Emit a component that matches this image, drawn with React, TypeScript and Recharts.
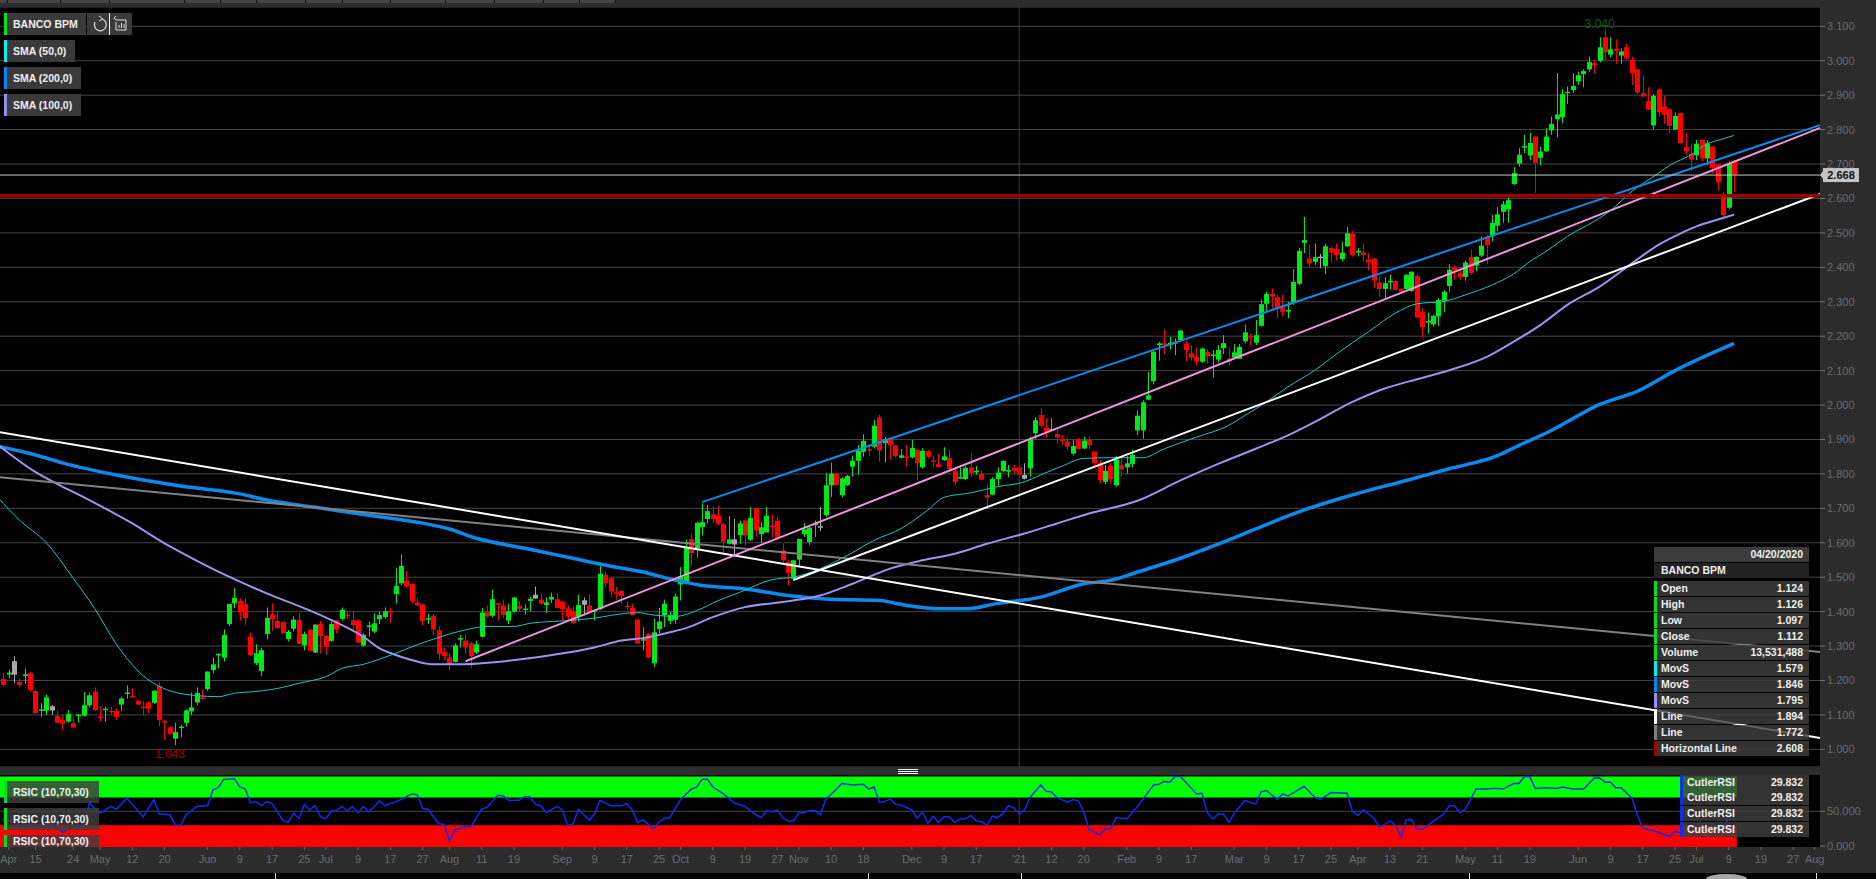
import { Bar, CartesianGrid, ComposedChart, Line, ReferenceArea, ReferenceDot, ReferenceLine, XAxis, YAxis } from "recharts"

// open, high, low, close (fifth field = unchanged bar, drawn grey)
const candles: number[][] = [
  [1.205,1.221,1.182,1.187],[1.217,1.232,1.206,1.223],[1.217,1.271,1.192,1.256,1],[1.196,1.206,1.180,1.186],[1.213,1.235,1.190,1.218],
  [1.221,1.225,1.167,1.172],[1.169,1.172,1.105,1.105],[1.112,1.134,1.095,1.116],[1.112,1.158,1.100,1.151],[1.113,1.129,1.100,1.125,1],
  [1.097,1.112,1.076,1.077],[1.085,1.100,1.056,1.075],[1.081,1.114,1.077,1.103],[1.076,1.093,1.061,1.063],[1.098,1.101,1.077,1.101],
  [1.098,1.166,1.095,1.128],[1.128,1.165,1.122,1.157],[1.168,1.180,1.112,1.114],[1.095,1.126,1.080,1.092],[1.115,1.124,1.080,1.118],
  [1.112,1.124,1.100,1.108],[1.111,1.119,1.085,1.094],[1.130,1.153,1.112,1.148],[1.162,1.186,1.147,1.165],[1.155,1.177,1.151,1.152],
  [1.141,1.143,1.129,1.130],[1.124,1.140,1.099,1.122],[1.136,1.140,1.105,1.118],[1.135,1.172,1.132,1.170],[1.184,1.194,1.066,1.085],
  [1.082,1.087,1.027,1.080],[1.064,1.068,1.042,1.045],[1.031,1.077,1.012,1.050],[1.063,1.071,1.035,1.066],[1.077,1.116,1.066,1.113],
  [1.110,1.165,1.100,1.122],[1.136,1.180,1.128,1.164],[1.151,1.174,1.143,1.147],[1.175,1.226,1.170,1.226],[1.230,1.267,1.221,1.247],
  [1.273,1.279,1.235,1.277],[1.266,1.348,1.255,1.332],[1.364,1.422,1.358,1.422],[1.424,1.468,1.410,1.440],[1.431,1.439,1.374,1.399],
  [1.422,1.439,1.360,1.381],[1.327,1.339,1.271,1.274],[1.250,1.305,1.245,1.279],[1.227,1.295,1.213,1.288],[1.335,1.412,1.319,1.382],
  [1.392,1.424,1.345,1.378],[1.373,1.400,1.350,1.352],[1.370,1.371,1.335,1.337],[1.320,1.347,1.313,1.341],[1.350,1.387,1.342,1.377],
  [1.376,1.395,1.306,1.306],[1.302,1.342,1.287,1.335],[1.347,1.349,1.286,1.286],[1.281,1.364,1.279,1.362],[1.365,1.374,1.279,1.329],
  [1.329,1.332,1.275,1.298],[1.315,1.371,1.313,1.364],[1.374,1.376,1.337,1.348],[1.379,1.412,1.374,1.405],[1.391,1.403,1.378,1.389],
  [1.375,1.400,1.345,1.360],[1.373,1.378,1.308,1.310],[1.301,1.337,1.298,1.333],[1.355,1.371,1.327,1.360],[1.342,1.395,1.337,1.366],
  [1.378,1.400,1.364,1.390],[1.384,1.412,1.379,1.401],[1.402,1.409,1.368,1.399],[1.451,1.526,1.424,1.474],[1.482,1.566,1.477,1.533],
  [1.490,1.519,1.470,1.474],[1.480,1.482,1.424,1.429],[1.426,1.439,1.414,1.418],[1.421,1.422,1.360,1.373],[1.378,1.393,1.364,1.381],
  [1.387,1.393,1.332,1.348],[1.346,1.358,1.261,1.277],[1.283,1.296,1.259,1.271],[1.267,1.279,1.230,1.245],
  [1.254,1.308,1.252,1.302],[1.319,1.332,1.296,1.323],[1.316,1.335,1.277,1.296],[1.308,1.312,1.236,1.271],[1.281,1.316,1.277,1.305],
  [1.327,1.411,1.325,1.397],[1.399,1.418,1.382,1.386],[1.388,1.464,1.384,1.436],[1.424,1.424,1.374,1.422],[1.418,1.435,1.382,1.390],
  [1.374,1.423,1.364,1.401],[1.400,1.442,1.397,1.441],[1.417,1.431,1.399,1.408],[1.407,1.421,1.391,1.409],[1.431,1.443,1.401,1.437],
  [1.438,1.473,1.437,1.449,1],[1.435,1.452,1.419,1.423],[1.419,1.441,1.396,1.427],[1.435,1.455,1.425,1.443],[1.436,1.454,1.410,1.411],
  [1.429,1.429,1.376,1.407],[1.409,1.418,1.376,1.386],[1.401,1.415,1.364,1.366],[1.386,1.449,1.372,1.419],[1.420,1.441,1.389,1.433,1],
  [1.418,1.450,1.396,1.399],[1.401,1.405,1.374,1.405],[1.408,1.533,1.405,1.510],[1.506,1.516,1.472,1.482],[1.498,1.499,1.442,1.458],
  [1.456,1.472,1.435,1.453],[1.460,1.462,1.423,1.445],[1.417,1.429,1.403,1.415],[1.411,1.423,1.389,1.390],[1.377,1.377,1.306,1.307],
  [1.316,1.355,1.288,1.320],[1.335,1.338,1.266,1.267],[1.250,1.379,1.239,1.340],[1.349,1.411,1.337,1.371],[1.389,1.435,1.355,1.423],
  [1.373,1.399,1.364,1.390],[1.376,1.452,1.364,1.444],[1.479,1.529,1.432,1.502],[1.481,1.609,1.479,1.585],[1.611,1.625,1.533,1.570],
  [1.583,1.661,1.557,1.658],[1.646,1.714,1.621,1.660],[1.669,1.710,1.656,1.692],[1.683,1.706,1.658,1.669],[1.679,1.708,1.651,1.654],
  [1.654,1.658,1.568,1.603],[1.597,1.677,1.595,1.610],[1.595,1.670,1.563,1.610,1],[1.622,1.664,1.597,1.656],[1.665,1.667,1.592,1.621],
  [1.609,1.704,1.605,1.672],[1.700,1.702,1.617,1.636],[1.625,1.661,1.599,1.645],[1.630,1.704,1.629,1.678],[1.650,1.680,1.617,1.645],
  [1.664,1.677,1.612,1.615],[1.578,1.597,1.539,1.549],[1.544,1.549,1.475,1.512],[1.495,1.551,1.490,1.549],[1.551,1.611,1.533,1.611],
  [1.625,1.658,1.617,1.639],[1.602,1.646,1.594,1.644],[1.651,1.665,1.617,1.658],[1.646,1.704,1.634,1.648,1],[1.680,1.803,1.675,1.767],
  [1.767,1.833,1.733,1.801],[1.801,1.802,1.767,1.767],[1.738,1.790,1.732,1.787],[1.767,1.797,1.765,1.794],[1.821,1.853,1.792,1.838],
  [1.838,1.884,1.798,1.867],[1.864,1.915,1.850,1.896],[1.872,1.884,1.852,1.869],[1.879,1.957,1.874,1.940],[1.964,1.972,1.836,1.868],
  [1.889,1.907,1.833,1.901],[1.899,1.904,1.840,1.884],[1.883,1.884,1.848,1.852],[1.847,1.872,1.845,1.854],[1.851,1.884,1.821,1.849],
  [1.848,1.899,1.845,1.875],[1.870,1.872,1.782,1.831],[1.819,1.875,1.816,1.867],[1.866,1.870,1.844,1.850],[1.839,1.852,1.821,1.836],
  [1.828,1.858,1.819,1.820],[1.840,1.877,1.838,1.851],[1.846,1.871,1.811,1.814],[1.809,1.823,1.767,1.776],[1.788,1.819,1.786,1.791],
  [1.785,1.823,1.782,1.818],[1.819,1.860,1.792,1.802],[1.805,1.823,1.797,1.809],[1.800,1.811,1.782,1.783],[1.739,1.770,1.704,1.731],
  [1.740,1.790,1.738,1.785],[1.785,1.819,1.765,1.804],[1.808,1.839,1.805,1.838],[1.807,1.826,1.790,1.811],[1.817,1.826,1.800,1.809],
  [1.819,1.826,1.777,1.797],[1.786,1.831,1.784,1.797,1],[1.816,1.908,1.792,1.901],[1.918,1.965,1.901,1.956],[1.971,1.991,1.933,1.940],
  [1.934,1.962,1.906,1.920],[1.928,1.962,1.926,1.930],[1.916,1.928,1.889,1.906],[1.900,1.913,1.884,1.897],[1.895,1.906,1.870,1.879],
  [1.859,1.899,1.854,1.881],[1.900,1.904,1.870,1.873],[1.874,1.908,1.872,1.897],[1.899,1.908,1.872,1.883],[1.865,1.865,1.816,1.831],
  [1.831,1.840,1.772,1.782],[1.777,1.826,1.770,1.809],[1.824,1.831,1.772,1.784],[1.767,1.852,1.763,1.842],[1.826,1.850,1.792,1.813],
  [1.819,1.852,1.800,1.831],[1.829,1.870,1.819,1.855],[1.926,1.984,1.913,1.969],[1.926,2.014,1.902,2.008],[2.016,2.096,2.014,2.028],
  [2.069,2.160,2.060,2.155],[2.174,2.184,2.129,2.179],[2.179,2.220,2.148,2.175],[2.175,2.199,2.161,2.181],[2.179,2.194,2.145,2.183],
  [2.189,2.218,2.185,2.216],[2.179,2.187,2.126,2.160],[2.150,2.174,2.129,2.138],[2.141,2.167,2.115,2.126],[2.126,2.167,2.123,2.164],
  [2.154,2.162,2.121,2.142],[2.144,2.160,2.080,2.147],[2.132,2.174,2.123,2.160],[2.165,2.203,2.148,2.180],[2.135,2.167,2.116,2.126],
  [2.138,2.177,2.135,2.153],[2.134,2.177,2.134,2.169],[2.185,2.234,2.179,2.211],[2.201,2.208,2.172,2.198],[2.181,2.247,2.174,2.203],
  [2.230,2.307,2.228,2.293],[2.294,2.330,2.267,2.323],[2.323,2.339,2.281,2.315],[2.313,2.320,2.252,2.281],[2.284,2.320,2.257,2.271],
  [2.273,2.300,2.252,2.276],[2.296,2.395,2.291,2.358],[2.352,2.456,2.349,2.448],[2.471,2.547,2.441,2.479],[2.426,2.466,2.401,2.411],
  [2.416,2.469,2.407,2.429],[2.429,2.439,2.398,2.431,1],[2.403,2.468,2.380,2.461],[2.456,2.461,2.414,2.443],[2.453,2.469,2.420,2.435],
  [2.424,2.473,2.417,2.443],[2.461,2.517,2.459,2.499],[2.497,2.505,2.432,2.436],[2.443,2.456,2.432,2.448],[2.443,2.469,2.417,2.436],
  [2.422,2.441,2.391,2.414],[2.424,2.427,2.340,2.362],[2.356,2.374,2.313,2.337],[2.337,2.372,2.310,2.354],[2.359,2.379,2.335,2.361],
  [2.360,2.362,2.333,2.335],[2.338,2.340,2.327,2.329],[2.337,2.380,2.335,2.378],[2.331,2.389,2.329,2.387],[2.375,2.381,2.254,2.254],
  [2.270,2.281,2.197,2.226],[2.240,2.268,2.208,2.244],[2.234,2.262,2.228,2.259],[2.257,2.310,2.230,2.305],[2.303,2.333,2.271,2.329],
  [2.346,2.409,2.329,2.393],[2.400,2.405,2.364,2.391],[2.383,2.393,2.364,2.372],[2.372,2.420,2.361,2.414],[2.430,2.451,2.378,2.383],
  [2.405,2.432,2.388,2.430],[2.434,2.490,2.430,2.463],[2.488,2.495,2.410,2.464],[2.492,2.553,2.476,2.529],[2.521,2.575,2.505,2.554],
  [2.561,2.593,2.529,2.583],[2.568,2.604,2.529,2.595],[2.642,2.691,2.639,2.674],[2.701,2.746,2.693,2.727],[2.748,2.785,2.732,2.752],
  [2.725,2.790,2.711,2.761],[2.780,2.780,2.616,2.703],[2.718,2.751,2.696,2.736],[2.737,2.804,2.734,2.780],[2.798,2.838,2.785,2.817],
  [2.830,2.964,2.778,2.844],[2.836,2.917,2.819,2.903],[2.907,2.925,2.875,2.910],[2.915,2.964,2.906,2.927],[2.940,2.968,2.930,2.958],
  [2.961,2.975,2.923,2.970],[2.975,3.012,2.968,2.996],[2.993,3.002,2.962,2.987],[3.000,3.068,2.995,3.039],[3.068,3.091,3.000,3.024],
  [3.018,3.068,3.010,3.033],[3.034,3.062,2.991,3.029],[3.015,3.036,2.991,3.027],[3.039,3.049,3.004,3.007],[3.002,3.012,2.929,2.964],
  [2.975,2.976,2.904,2.908],[2.906,2.958,2.896,2.896],[2.883,2.923,2.857,2.858],[2.812,2.903,2.801,2.898],[2.917,2.918,2.838,2.851],
  [2.867,2.898,2.817,2.843],[2.859,2.861,2.790,2.811],[2.800,2.850,2.799,2.840],[2.848,2.848,2.759,2.761],[2.749,2.790,2.726,2.737],
  [2.730,2.759,2.679,2.713],[2.725,2.770,2.711,2.759],[2.770,2.770,2.708,2.717],[2.716,2.769,2.697,2.760],[2.751,2.751,2.672,2.688],
  [2.698,2.701,2.624,2.647],[2.606,2.618,2.546,2.551],[2.573,2.708,2.568,2.701],[2.710,2.710,2.618,2.669],
]

// [bar index, value]
const sma50 = [[-1,1.731],[3,1.666],[8,1.600],[13,1.497],[17,1.409],[21,1.306],[26,1.214],[31,1.170],[36,1.156],[40,1.153],[43,1.163],[47,1.168],[52,1.180],[55,1.192],[60,1.211],[63,1.235],[67,1.247],[70,1.262],[73,1.279],[76,1.298],[80,1.320],[83,1.335],[86,1.347],[90,1.357],[95,1.357],[98,1.366],[105,1.374],[110,1.381],[113,1.389],[118,1.397],[121,1.390],[125,1.386],[129,1.403],[133,1.432],[137,1.456],[143,1.493],[147,1.500],[152,1.525],[157,1.563],[162,1.607],[167,1.641],[172,1.695],[175,1.732],[180,1.745],[185,1.763],[190,1.777],[193,1.797],[197,1.823],[201,1.845],[206,1.847],[212,1.847],[216,1.873],[222,1.907],[228,1.941],[231,1.970],[235,2.009],[239,2.053],[244,2.101],[248,2.148],[254,2.213],[259,2.267],[263,2.294],[268,2.301],[272,2.320],[277,2.349],[281,2.381],[284,2.417],[287,2.446],[291,2.490],[296,2.534],[299,2.565],[303,2.621],[308,2.674],[310,2.696],[314,2.727],[317,2.759],[319,2.769],[322,2.783]]
const sma100 = [[-1,1.884],[6,1.805],[10,1.771],[16,1.724],[24,1.656],[30,1.598],[34,1.564],[40,1.516],[44,1.487],[49,1.453],[55,1.416],[59,1.390],[63,1.361],[67,1.327],[70,1.293],[73,1.274],[77,1.255],[80,1.247],[85,1.247],[94,1.257],[105,1.281],[110,1.296],[115,1.316],[119,1.323],[124,1.340],[127,1.352],[132,1.384],[138,1.413],[146,1.430],[152,1.447],[158,1.481],[165,1.525],[171,1.549],[177,1.568],[183,1.597],[190,1.627],[196,1.656],[202,1.685],[211,1.722],[219,1.781],[226,1.829],[233,1.873],[239,1.912],[244,1.951],[251,2.009],[257,2.048],[263,2.075],[269,2.101],[276,2.140],[281,2.184],[286,2.233],[291,2.291],[297,2.344],[304,2.423],[308,2.466],[312,2.498],[315,2.519],[319,2.539],[322,2.553]]
const sma200 = [[-1,1.880],[6,1.855],[11,1.832],[22,1.794],[33,1.765],[44,1.742],[49,1.724],[58,1.703],[68,1.680],[78,1.657],[83,1.640],[88,1.613],[97,1.584],[105,1.558],[113,1.532],[119,1.515],[124,1.495],[130,1.476],[138,1.466],[146,1.447],[153,1.437],[163,1.432],[168,1.418],[174,1.408],[179,1.408],[185,1.424],[193,1.442],[201,1.481],[206,1.491],[211,1.515],[219,1.555],[226,1.596],[233,1.640],[240,1.684],[249,1.730],[261,1.781],[269,1.815],[278,1.853],[282,1.883],[288,1.926],[297,2.002],[304,2.040],[311,2.100],[322,2.179]]

// [bar index, price] end points of the drawn trend lines
const channelTop = [[130,1.718],[338,2.813]]
const channelMid = [[86,1.256],[338,2.805]]
const channelLow = [[147,1.492],[338,2.613]]
const fallLine = [[-1,1.922],[338,1.033]]
const fallLineGrey = [[-1,1.791],[338,1.283]]

const rsi = [[0,41],[3,29],[7,31],[9,32],[11,20],[13,29],[15,29],[16,62],[18,47],[20,57],[21,53],[23,69],[26,42],[28,67],[29,46],[31,45],[32,30],[33,30],[34,45],[36,57],[38,58],[39,81],[40,84],[41,96],[43,97],[44,85],[45,82],[46,62],[47,64],[48,58],[49,64],[50,61],[52,37],[53,34],[54,47],[55,40],[56,60],[57,52],[58,58],[59,42],[60,39],[61,50],[62,51],[63,57],[64,51],[65,57],[66,48],[67,57],[68,49],[70,65],[71,58],[74,67],[76,75],[77,74],[78,54],[79,53],[81,32],[82,31],[83,8],[84,23],[86,28],[87,28],[89,53],[90,56],[92,73],[93,72],[94,66],[96,66],[97,71],[98,71],[99,60],[100,58],[101,48],[103,57],[104,52],[105,30],[106,32],[107,53],[109,37],[110,46],[111,66],[113,58],[115,58],[116,61],[117,52],[118,34],[119,38],[121,25],[122,35],[123,40],[124,41],[126,67],[128,82],[129,85],[130,96],[131,96],[132,85],[134,75],[136,62],[138,57],[140,45],[141,41],[142,51],[143,49],[144,52],[145,41],[146,36],[147,36],[148,48],[149,48],[150,51],[151,51],[152,45],[153,67],[155,82],[156,90],[158,88],[160,89],[161,82],[162,85],[163,63],[164,64],[165,68],[166,60],[167,59],[169,52],[170,40],[171,49],[172,33],[173,43],[174,34],[175,42],[176,42],[177,34],[178,39],[179,39],[180,44],[181,36],[182,35],[183,30],[184,43],[185,41],[186,47],[187,58],[188,55],[189,46],[190,52],[191,70],[193,88],[194,79],[195,78],[196,70],[198,63],[199,67],[200,65],[201,49],[202,24],[204,16],[205,25],[206,25],[207,41],[209,39],[211,57],[212,67],[214,88],[215,89],[216,93],[217,92],[218,100],[219,100],[222,75],[223,76],[224,48],[225,39],[226,46],[227,46],[228,34],[229,47],[231,66],[233,60],[234,78],[235,80],[237,67],[238,75],[239,72],[242,86],[244,70],[245,67],[247,77],[250,76],[251,50],[252,44],[253,52],[255,40],[256,27],[258,36],[259,30],[260,13],[261,38],[262,38],[263,24],[264,24],[266,35],[268,46],[269,58],[270,58],[271,48],[272,53],[274,82],[276,82],[277,83],[278,83],[279,82],[281,90],[282,90],[283,100],[284,100],[285,83],[287,84],[289,83],[290,85],[292,82],[294,82],[296,98],[297,98],[298,92],[299,92],[300,84],[301,84],[303,69],[304,45],[305,26],[307,22],[310,14],[311,21],[313,18],[315,32],[318,32],[320,27],[321,40],[322,41]]

const priceTicks = [1,1.1,1.2,1.3,1.4,1.5,1.6,1.7,1.8,1.9,2,2.1,2.2,2.3,2.4,2.5,2.6,2.7,2.8,2.9,3,3.1]
const rsiTicks = [0,50]
const dateTicks = [1,6,13,18,24,30,38,44,50,56,60,66,72,78,83,89,95,104,110,116,122,126,132,138,144,148,154,160,169,175,181,189,195,201,209,215,221,229,235,241,247,252,258,264,272,278,284,293,299,305,311,315,321,327,333,337]
const dateLabels = ["Apr","15","24","May","12","20","Jun","9","17","25","Jul","9","17","27","Aug","11","19","Sep","9","17","25","Oct","9","19","27","Nov","10","18","Dec","9","17","'21","12","20","Feb","9","17","Mar","9","17","25","Apr","13","21","May","11","19","Jun","9","17","25","Jul","9","19","27","Aug"]

const legendItems = [
  { name: "BANCO BPM", color: "#00e01e", width: 82 },
  { name: "SMA (50,0)", color: "#00f0f0", width: 71 },
  { name: "SMA (200,0)", color: "#0a84f0", width: 77 },
  { name: "SMA (100,0)", color: "#9090f0", width: 77 },
]
const infoRows = [
  ["Open", "1.124", "#00e01e"], ["High", "1.126", "#00e01e"], ["Low", "1.097", "#00e01e"], ["Close", "1.112", "#00e01e"],
  ["Volume", "13,531,488", "#00e01e"], ["MovS", "1.579", "#00f0f0"], ["MovS", "1.846", "#0a84f0"], ["MovS", "1.795", "#9090f0"],
  ["Line", "1.894", "#ffffff"], ["Line", "1.772", "#808080"], ["Horizontal Line", "2.608", "#a00000"],
]
const rsicTops = [781, 808, 835]
const cutlerTops = [775, 790, 806, 822]
const tabEdges = [7, 60, 109, 184, 220, 256, 305, 342, 390, 445, 494, 543, 579, 615]
const navMarks = [275, 868, 1021, 1469, 1816]

// one extra slot before the first bar so the trend lines reach the left edge
const FIRST_SLOT = -1
const SLOT_COUNT = 340
const rows: any[] = Array.from({ length: SLOT_COUNT }, (_, n) => {
  const i = n + FIRST_SLOT
  const c = candles[i]
  return c ? { i, open: c[0], high: c[1], low: c[2], close: c[3], flat: c[4] === 1, range: [c[2], c[1]] } : { i }
})
const fill = (key: string, pts: number[][]) => pts.forEach(([i, v]) => { rows[i - FIRST_SLOT][key] = v })
fill("sma50", sma50); fill("sma100", sma100); fill("sma200", sma200)
fill("channelTop", channelTop); fill("channelMid", channelMid); fill("channelLow", channelLow)
fill("fallLine", fallLine); fill("fallLineGrey", fallLineGrey); fill("rsi", rsi)

const FONT = "'Liberation Sans', Arial, sans-serif"
const AXIS_TEXT = "#6b6b6b"
const UP = "#00e81a"
const DOWN = "#ff0000"
const SLOT_PADDING = { left: -4.73, right: -2.77 }

function Candle(props: any) {
  const { x, y, width, height, payload } = props
  if (!payload || payload.open === undefined) return null
  const perPrice = Math.abs(height) / (payload.high - payload.low)
  const toY = (p: number) => y + (payload.high - p) * perPrice
  const color = payload.flat ? "#a8a8a8" : payload.close >= payload.open ? UP : DOWN
  const cx = Math.round(x + width / 2)
  const top = toY(Math.max(payload.open, payload.close))
  const bottom = toY(Math.min(payload.open, payload.close))
  return (
    <g>
      <line x1={cx + 0.5} x2={cx + 0.5} y1={y} y2={y + Math.abs(height)} stroke={color} strokeWidth={1} />
      <rect x={cx - 2} y={top} width={5} height={Math.max(bottom - top, 1.5)} fill={color} />
    </g>
  )
}

function PriceTag(props: any) {
  const { viewBox } = props
  const right = viewBox.x + viewBox.width
  const y = viewBox.y
  return (
    <g>
      <polygon points={`${right},${y} ${right + 4},${y - 5} ${right + 4},${y + 5}`} fill="#c4c4c4" />
      <rect x={right + 3} y={y - 7} width={36} height={14} fill="#c4c4c4" />
      <text x={right + 21} y={y + 4} textAnchor="middle" fontSize={11} fontWeight={700} fontFamily={FONT} fill="#111">2.668</text>
    </g>
  )
}

const trend = (key: string, stroke: string, width = 2) => (
  <Line dataKey={key} stroke={stroke} strokeWidth={width} dot={false} connectNulls isAnimationActive={false} type="linear" />
)
const avg = (key: string, stroke: string, width: number) => (
  <Line dataKey={key} stroke={stroke} strokeWidth={width} dot={false} connectNulls isAnimationActive={false} type="monotone" />
)

function Tag({ left, top, width, height, tab, children, opaque }: any) {
  return (
    <div style={{ position: "absolute", left, top, width, height, background: opaque ? "#3a3a3a" : "rgba(62,62,62,0.82)", color: "#f0f0f0", font: `700 10.5px/${height}px ${FONT}`, whiteSpace: "nowrap", overflow: "hidden" }}>
      <div style={{ position: "absolute", left: 0, top: 0, width: 3, height: "100%", background: tab }} />
      {children}
    </div>
  )
}

export default function App() {
  return (
    <div style={{ position: "fixed", left: 0, top: 0, width: 1876, height: 879, background: "#2c2c2c", overflow: "hidden", fontFamily: FONT }}>
      {/* top tab strip */}
      <div style={{ position: "absolute", left: 0, top: 0, width: 616, height: 3, background: "#454545" }} />
      {tabEdges.map((x) => <div key={x} style={{ position: "absolute", left: x, top: 0, width: 1, height: 3, background: "#111" }} />)}

      {/* price pane */}
      <div style={{ position: "absolute", left: 0, top: 7, width: 1820, height: 760, background: "#000" }} />
      <div style={{ position: "absolute", left: 0, top: 7 }}>
        <ComposedChart width={1876} height={760} data={rows} margin={{ top: 0, right: 0, bottom: 0, left: 0 }} barCategoryGap={0}>
          <CartesianGrid vertical={false} stroke="#454545" />
          <XAxis dataKey="i" type="category" scale="band" padding={SLOT_PADDING} hide />
          <YAxis orientation="right" width={56} domain={[0.9487, 3.1561]} ticks={priceTicks} interval={0} allowDataOverflow axisLine={false} tickSize={5} tickMargin={2} tickLine={{ stroke: "#777" }} tick={{ fill: AXIS_TEXT, fontSize: 11, fontFamily: FONT }} tickFormatter={(v: number) => v.toFixed(3)} />
          <ReferenceLine x={189} stroke="#3c3c3c" />
          <Bar dataKey="range" barSize={5} shape={Candle} isAnimationActive={false} />
          {avg("sma200", "#0a8aec", 3.5)}
          {avg("sma100", "#9a94ee", 2)}
          {avg("sma50", "#12c8c8", 1)}
          {trend("fallLineGrey", "#808080")}
          {trend("fallLine", "#ffffff")}
          {trend("channelTop", "#0a8aec")}
          {trend("channelMid", "#f094de")}
          {trend("channelLow", "#ffffff")}
          <ReferenceLine y={2.668} stroke="#c8c8c8" strokeWidth={1} label={PriceTag} />
          <ReferenceLine y={2.608} stroke="#a00000" strokeWidth={3.5} />
          <ReferenceDot x={297} y={3.091} r={0} fill="none" stroke="none" label={{ value: "3.040", position: "top", offset: 1, fill: "#0b5f0b", fontSize: 12, fontFamily: FONT }} />
          <ReferenceDot x={31} y={1.012} r={0} fill="none" stroke="none" label={{ value: "1.043", position: "bottom", offset: 4, fill: "#a00000", fontSize: 12, fontFamily: FONT }} />
        </ComposedChart>
      </div>

      {/* pane splitter handle */}
      <div style={{ position: "absolute", left: 898, top: 769, width: 20, height: 5, borderTop: "1px solid #eee", borderBottom: "1px solid #eee", boxSizing: "border-box" }}>
        <div style={{ marginTop: 1, height: 1, background: "#eee" }} />
      </div>

      {/* RSI pane */}
      <div style={{ position: "absolute", left: 0, top: 775, width: 1820, height: 72, background: "#000" }} />
      <div style={{ position: "absolute", left: 0, top: 775 }}>
        <ComposedChart width={1876} height={98} data={rows} margin={{ top: 0, right: 0, bottom: 0, left: 0 }}>
          <XAxis dataKey="i" type="category" scale="band" padding={SLOT_PADDING} ticks={dateTicks} interval={0} height={26} axisLine={false} tickSize={3} tickMargin={5} tickLine={{ stroke: "#666" }} tick={{ fill: AXIS_TEXT, fontSize: 11, fontFamily: FONT }} tickFormatter={(v: number) => dateLabels[dateTicks.indexOf(v)] ?? ""} />
          <YAxis orientation="right" width={56} domain={[-1.4, 102.3]} ticks={rsiTicks} interval={0} allowDataOverflow axisLine={false} tickSize={5} tickMargin={2} tickLine={{ stroke: "#777" }} tick={{ fill: AXIS_TEXT, fontSize: 11, fontFamily: FONT }} tickFormatter={(v: number) => v.toFixed(3)} />
          <ReferenceArea x1={-1} x2={322} y1={70} y2={100} fill="#00ff00" fillOpacity={1} stroke="none" />
          <ReferenceArea x1={-1} x2={322} y1={-1.4} y2={30} fill="#ff0000" fillOpacity={1} stroke="none" />
          <ReferenceLine y={50} stroke="#454545" />
          <ReferenceLine segment={[{ x: 189, y: 70 }, { x: 189, y: 30 }]} stroke="#3c3c3c" />
          <Line dataKey="rsi" stroke="#0a2df0" strokeWidth={1.5} dot={false} connectNulls isAnimationActive={false} type="linear" />
        </ComposedChart>
      </div>

      {/* strip below the date axis */}
      <div style={{ position: "absolute", left: 0, top: 873, width: 1876, height: 6, background: "#000" }} />
      {navMarks.map((x) => <div key={x} style={{ position: "absolute", left: x, top: 873, width: 1, height: 6, background: "#ddd" }} />)}
      <div style={{ position: "absolute", left: 1706, top: 874, width: 41, height: 10, borderRadius: "50% 50% 0 0", background: "#a8a8a8" }} />

      {/* legend chips */}
      {legendItems.map((item, k) => (
        <Tag key={item.name} left={4} top={13 + k * 27} width={item.width} height={22} tab={item.color} opaque>
          <span style={{ marginLeft: 9 }}>{item.name}</span>
        </Tag>
      ))}
      <div style={{ position: "absolute", left: 87, top: 13, width: 45, height: 22, background: "#3a3a3a" }}>
        <div style={{ position: "absolute", left: 22, top: 0, width: 1, height: 22, background: "#eee" }} />
        <svg width={45} height={22}>
          <path d="M15 6 A6 6 0 1 1 8 9" fill="none" stroke="#ddd" strokeWidth={1.2} />
          <path d="M12 3 L16 6 L12 8" fill="none" stroke="#ddd" strokeWidth={1} />
          <path d="M29 7 H39 V17 H29 V9 M32 15 V12 M34.5 15 V10 M37 15 V11 M27 5 L29 3 M27 5 L29 7" fill="none" stroke="#ddd" strokeWidth={1} />
        </svg>
      </div>

      {/* data box */}
      <div style={{ position: "absolute", left: 1654, top: 547, width: 155, height: 15, background: "#3c3c3c", color: "#f0f0f0", font: `700 10.5px/15px ${FONT}`, textAlign: "right", paddingRight: 6, boxSizing: "border-box" }}>04/20/2020</div>
      <div style={{ position: "absolute", left: 1654, top: 563, width: 155, height: 15, background: "#222", color: "#f0f0f0", font: `700 10.5px/15px ${FONT}`, paddingLeft: 7, boxSizing: "border-box" }}>BANCO BPM</div>
      {infoRows.map(([label, value, color], k) => (
        <Tag key={k} left={1654} top={581 + k * 16} width={155} height={15} tab={color}>
          <span style={{ position: "absolute", left: 7 }}>{label}</span>
          <span style={{ position: "absolute", right: 6 }}>{value}</span>
        </Tag>
      ))}

      {/* RSI chips */}
      {rsicTops.map((top, k) => (
        <Tag key={k} left={4} top={top} width={95} height={Math.min(22, 847 - top)} tab="#00e01e">
          <span style={{ marginLeft: 9 }}>RSIC (10,70,30)</span>
        </Tag>
      ))}
      {cutlerTops.map((top, k) => (
        <Tag key={k} left={1680} top={top} width={129} height={15} tab="#0a2df0">
          <span style={{ position: "absolute", left: 7 }}>CutlerRSI</span>
          <span style={{ position: "absolute", right: 6 }}>29.832</span>
        </Tag>
      ))}
    </div>
  )
}
